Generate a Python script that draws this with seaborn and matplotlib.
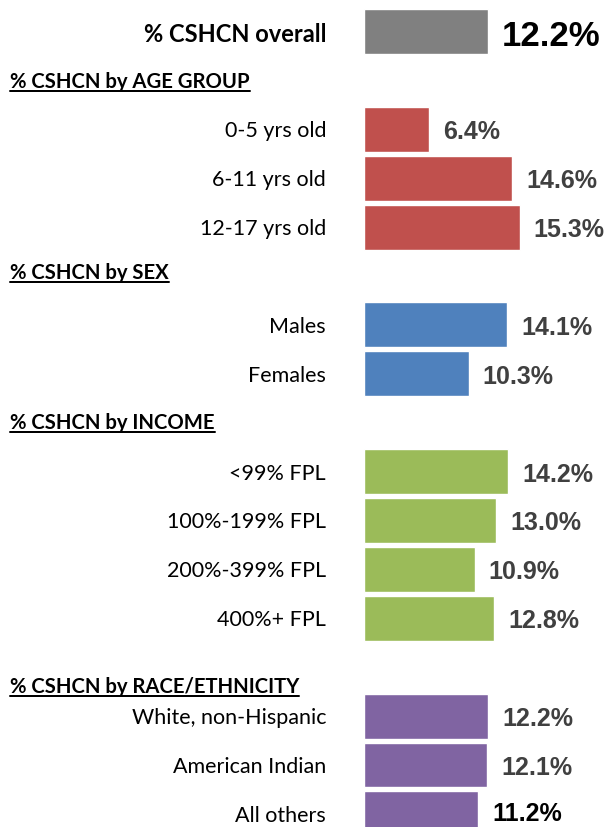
import matplotlib
matplotlib.use('Agg')
import matplotlib.pyplot as plt
from matplotlib.lines import Line2D
from matplotlib.transforms import IdentityTransform
import pandas as pd
import seaborn as sns

# --- data ---
overall_label = '% CSHCN overall'
overall_values = [12.2]
age_labels = ['0-5 yrs old', '6-11 yrs old', '12-17 yrs old']
age_values = [6.4, 14.6, 15.3]
sex_labels = ['Males', 'Females']
sex_values = [14.1, 10.3]
income_labels = ['<99% FPL', '100%-199% FPL', '200%-399% FPL', '400%+ FPL']
income_values = [14.2, 13.0, 10.9, 12.8]
race_labels = ['White, non-Hispanic', 'American Indian', 'All others']
race_values = [12.2, 12.1, 11.2]
group_titles = ['% CSHCN by AGE GROUP', '% CSHCN by SEX',
                '% CSHCN by INCOME', '% CSHCN by RACE/ETHNICITY']

# --- styles ---
colors = {'overall': '#808080', 'age': '#C0504D', 'sex': '#4F81BD',
          'income': '#9BBB59', 'race': '#8064A2'}
title_nudge = {'age': 0.03, 'sex': -0.07, 'income': 0.0, 'race': 0.40}
black_values = {overall_label, 'All others'}

W, H, DPI = 606, 827, 100
PITCH = 48.9        # px per row
PX_PER_UNIT = 10.17  # px per percent
X0 = 364            # px of the zero line

# собираем таблицу, пустые строки под заголовки групп
groups = [('age', age_labels, age_values), ('sex', sex_labels, sex_values),
          ('income', income_labels, income_values), ('race', race_labels, race_values)]
rows = [{'label': overall_label, 'value': overall_values[0], 'group': 'overall'}]
order = [overall_label]
spacers = {}
for i, (g, labs, vals) in enumerate(groups):
    sp = ' ' * (i + 1)
    order.append(sp)
    spacers[g] = sp
    for lab, v in zip(labs, vals):
        rows.append({'label': lab, 'value': v, 'group': g})
        order.append(lab)
df = pd.DataFrame(rows)

sns.set_style('white')
plt.rcParams['font.family'] = ['Lato', 'DejaVu Sans']

fig = plt.figure(figsize=(W / DPI, H / DPI), dpi=DPI)
n = len(order)
top_px = 31.5 - 0.5 * PITCH
h_px = n * PITCH
ax = fig.add_axes([X0 / W, (H - top_px - h_px) / H, (W - X0) / W, h_px / H])

sns.barplot(data=df, x='value', y='label', hue='group', order=order,
            palette=colors, dodge=False, width=0.92, saturation=1,
            legend=False, ax=ax)
ax.set_xlim(0, (W - X0) / PX_PER_UNIT)
ax.set_ylim(n - 0.5, -0.5)
ax.axis('off')

pt = 72 / DPI  # px -> points
pos = {lab: i for i, lab in enumerate(order)}

for _, r in df.iterrows():
    y = pos[r['label']]
    is_overall = r['group'] == 'overall'
    is_last = y == n - 1
    # left label
    ax.annotate(r['label'], xy=(0, y), xytext=(-38 * pt, (-11 if is_overall else -8) * pt),
                textcoords='offset points', ha='right', va='baseline',
                fontsize=17 if is_overall else 15.5,
                fontweight='bold' if is_overall else 'normal', color='black')
    # value label (the last one is kept inside the bottom edge)
    dy = -14.5 if is_overall else (-7 if is_last else -10)
    ax.annotate(f"{r['value']:.1f}%", xy=(r['value'], y),
                xytext=(14 * pt, dy * pt),
                textcoords='offset points', ha='left', va='baseline',
                fontsize=25 if is_overall else 18, fontweight='bold',
                family=['Liberation Sans', 'DejaVu Sans'],
                color='black' if r['label'] in black_values else '#404040')

# заголовки групп с подчёркиванием
fig.canvas.draw()
renderer = fig.canvas.get_renderer()
for (g, _, _), title in zip(groups, group_titles):
    yrow = pos[spacers[g]] + title_nudge[g]
    t = ax.annotate(title, xy=(10, yrow), xycoords=('figure pixels', 'data'),
                    xytext=(0, -6.5 * pt), textcoords='offset points',
                    ha='left', va='baseline', fontsize=14.6, fontweight='bold',
                    color='black')
    bb = t.get_window_extent(renderer)
    base = ax.transData.transform((0, yrow))[1] - 6.5
    fig.add_artist(Line2D([bb.x0, bb.x1], [base - 3, base - 3], color='black',
                          linewidth=2 * pt, transform=IdentityTransform()))

fig.savefig('out.png', dpi=DPI)
